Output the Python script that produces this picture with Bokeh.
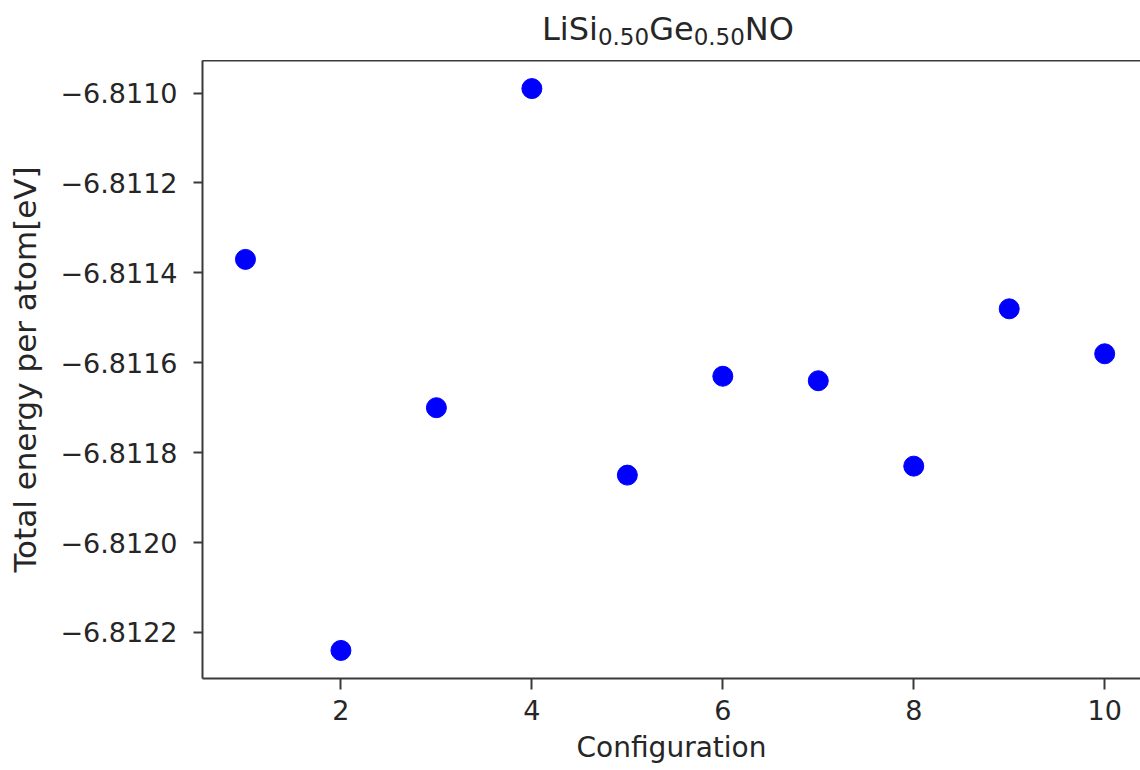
from bokeh.plotting import figure
from bokeh.models import Range1d, FixedTicker, CustomJSTickFormatter, LinearAxis, Div
from bokeh.layouts import column
from bokeh.embed import file_html
from bokeh.resources import INLINE

# ---- data ----
configurations = [1, 2, 3, 4, 5, 6, 7, 8, 9, 10]
energies = [-6.81137, -6.81224, -6.81170, -6.81099, -6.81185,
            -6.81163, -6.81164, -6.81183, -6.81148, -6.81158]
x_ticks = [2, 4, 6, 8, 10]
y_ticks = [-6.8122, -6.8120, -6.8118, -6.8116, -6.8114, -6.8112, -6.8110]
title_main = ["LiSi", "Ge", "NO"]
title_subs = ["0.50", "0.50"]
x_label = "Configuration"
y_label = "Total energy per atom[eV]"

FONT = "DejaVu Sans"
TXT = "#262626"
AX = "#3a3a3a"

# matplotlib-like 5% margins on the y data; x axis is cut at the right window edge
ymin, ymax = min(energies), max(energies)
ypad = 0.05 * (ymax - ymin)
xpad = 0.05 * (max(configurations) - min(configurations))

W, TITLE_H = 1140, 60
H = 770 - TITLE_H
p = figure(width=W, height=H, output_backend="svg", toolbar_location=None,
           x_range=Range1d(min(configurations) - xpad, 10.375),
           y_range=Range1d(ymin - ypad, ymax + ypad),
           min_border_left=202, min_border_right=0, min_border_top=0,
           min_border_bottom=92)
p.outline_line_color = None
p.xgrid.visible = False
p.ygrid.visible = False
p.background_fill_color = "white"
p.border_fill_color = "white"

p.scatter(configurations, energies, size=20, color="blue", line_color="blue")

for ax in (p.xaxis[0], p.yaxis[0]):
    ax.axis_line_color = AX
    ax.axis_line_width = 2
    ax.major_tick_line_color = AX
    ax.major_tick_line_width = 2
    ax.major_tick_out = 9
    ax.major_tick_in = 0
    ax.minor_tick_line_color = None
    ax.major_label_text_font = FONT
    ax.major_label_text_font_size = "27px"
    ax.major_label_text_color = TXT
    ax.axis_label_text_font = FONT
    ax.axis_label_text_font_style = "normal"
    ax.axis_label_text_color = TXT

p.xaxis[0].ticker = FixedTicker(ticks=x_ticks)
p.xaxis[0].major_tick_out = 11
p.xaxis[0].major_label_standoff = 10
p.xaxis[0].axis_label = x_label
p.xaxis[0].axis_label_text_font_size = "28px"
p.xaxis[0].axis_label_standoff = 8

p.yaxis[0].ticker = FixedTicker(ticks=y_ticks)
p.yaxis[0].formatter = CustomJSTickFormatter(
    code="return (tick < 0 ? '\u2212' : '') + Math.abs(tick).toFixed(4);")
p.yaxis[0].major_label_standoff = 16
p.yaxis[0].axis_label = y_label
p.yaxis[0].axis_label_text_font_size = "31px"
p.yaxis[0].axis_label_standoff = 14

# top spine
top = LinearAxis(ticker=FixedTicker(ticks=[]), axis_line_color=AX, axis_line_width=2,
                 major_tick_line_color=None, minor_tick_line_color=None,
                 major_tick_out=0, major_tick_in=0, major_label_standoff=0,
                 major_label_text_font_size="0px")
p.add_layout(top, "above")

# title with subscripts
sub_style = "font-size:23px; vertical-align:-5px; line-height:0;"
title_html = (f"{title_main[0]}<sub style='{sub_style}'>{title_subs[0]}</sub>"
              f"{title_main[1]}<sub style='{sub_style}'>{title_subs[1]}</sub>"
              f"{title_main[2]}")
title = Div(text=title_html, width=W, height=TITLE_H, margin=(0, 0, 0, 0),
            styles={"font-family": FONT, "font-size": "32px", "line-height": "58px",
                    "color": TXT, "text-indent": "542px", "white-space": "nowrap"})

layout = column(title, p, spacing=0)
open("out.html", "w").write(file_html(layout, INLINE))
